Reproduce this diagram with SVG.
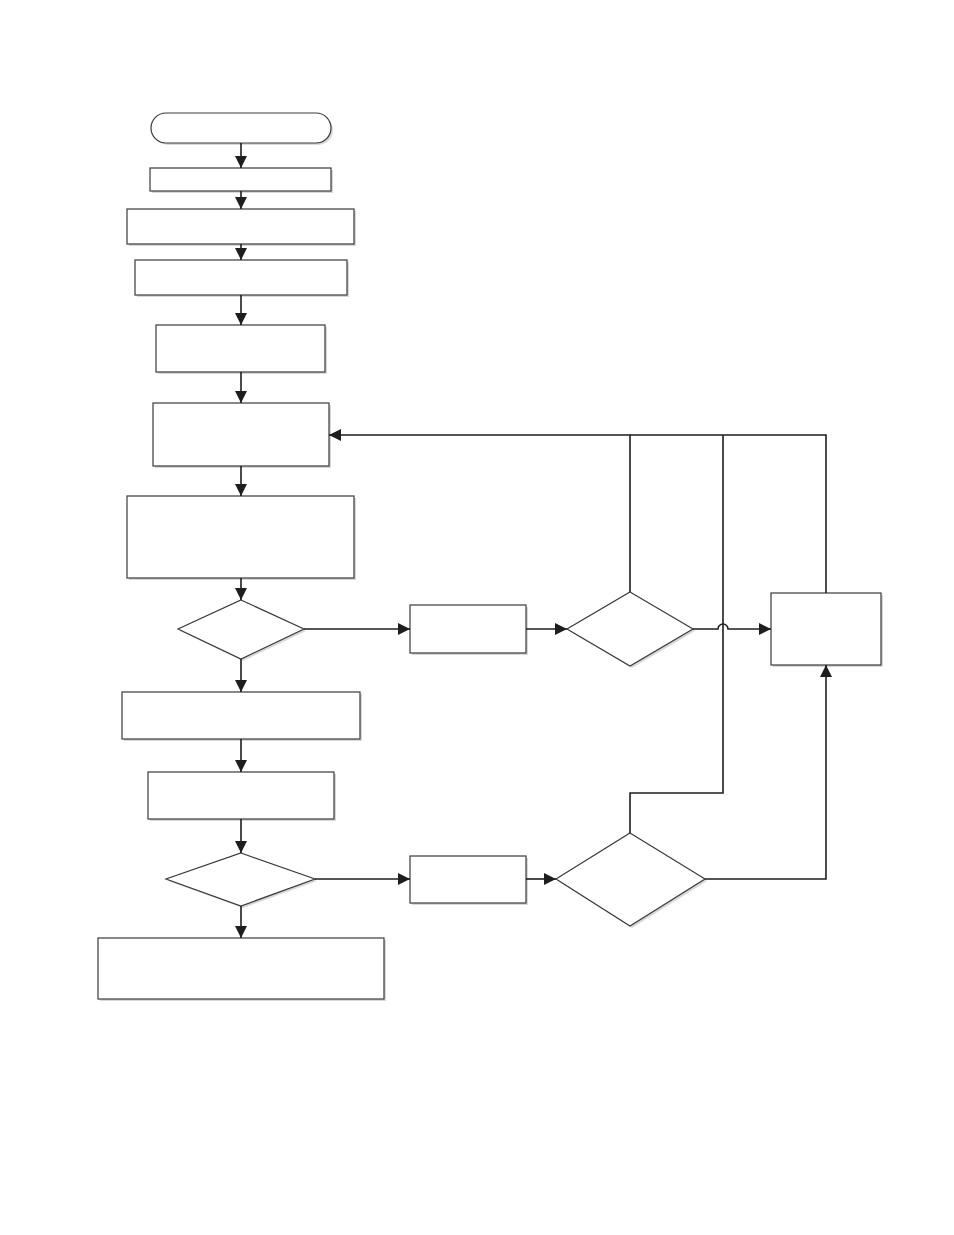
<svg xmlns="http://www.w3.org/2000/svg" width="954" height="1235" viewBox="0 0 954 1235">
<style>
.n{fill:#fff;stroke:#3a3a3a;stroke-width:1.2}
.s{fill:#d8d8d8;stroke:none}
.c{fill:none;stroke:#1e1e1e;stroke-width:1.6}
.a{marker-end:url(#ah)}
</style>
<defs>
<marker id="ah" markerUnits="userSpaceOnUse" markerWidth="12" markerHeight="12" viewBox="0 0 12 12" refX="12" refY="6" orient="auto">
<path d="M0,0 L12,6 L0,12 Z" fill="#1e1e1e"/>
</marker>
</defs>
<rect width="954" height="1235" fill="#fff"/>
<g id="n1"><rect class="s" x="153" y="115" width="180" height="30" rx="15"/><rect class="n" x="151" y="113" width="180" height="30" rx="15"/></g>
<g id="n2"><rect class="s" x="152" y="170" width="181" height="23"/><rect class="n" x="150" y="168" width="181" height="23"/></g>
<g id="n3"><rect class="s" x="129" y="211" width="227" height="35"/><rect class="n" x="127" y="209" width="227" height="35"/></g>
<g id="n4"><rect class="s" x="137" y="262" width="212" height="35"/><rect class="n" x="135" y="260" width="212" height="35"/></g>
<g id="n5"><rect class="s" x="158" y="327" width="169" height="47"/><rect class="n" x="156" y="325" width="169" height="47"/></g>
<g id="n6"><rect class="s" x="155" y="405" width="176" height="63"/><rect class="n" x="153" y="403" width="176" height="63"/></g>
<g id="n7"><rect class="s" x="129" y="498" width="227" height="82"/><rect class="n" x="127" y="496" width="227" height="82"/></g>
<g id="n8"><path class="s" d="M243,602 L306,631 L243,661 L180,631 Z"/><path class="n" d="M241,600 L304,629 L241,659 L178,629 Z"/></g>
<g id="n9"><rect class="s" x="412" y="607" width="116" height="48"/><rect class="n" x="410" y="605" width="116" height="48"/></g>
<g id="n10"><path class="s" d="M632,594 L695,631 L632,668 L569,631 Z"/><path class="n" d="M630,592 L693,629 L630,666 L567,629 Z"/></g>
<g id="n11"><rect class="s" x="773" y="595" width="110" height="72"/><rect class="n" x="771" y="593" width="110" height="72"/></g>
<g id="n12"><rect class="s" x="124" y="694" width="238" height="47"/><rect class="n" x="122" y="692" width="238" height="47"/></g>
<g id="n13"><rect class="s" x="150" y="774" width="186" height="47"/><rect class="n" x="148" y="772" width="186" height="47"/></g>
<g id="n14"><path class="s" d="M243,855 L317,881 L243,908 L168,881 Z"/><path class="n" d="M241,853 L315,879 L241,906 L166,879 Z"/></g>
<g id="n15"><rect class="s" x="412" y="858" width="116" height="47"/><rect class="n" x="410" y="856" width="116" height="47"/></g>
<g id="n16"><path class="s" d="M632,835 L707,881 L632,928 L558,881 Z"/><path class="n" d="M630,833 L705,879 L630,926 L556,879 Z"/></g>
<g id="n17"><rect class="s" x="100" y="940" width="286" height="61"/><rect class="n" x="98" y="938" width="286" height="61"/></g>
<g id="connectors">
<path class="c a" d="M241,143 V168"/>
<path class="c a" d="M241,191 V209"/>
<path class="c a" d="M241,244 V260"/>
<path class="c a" d="M241,295 V325"/>
<path class="c a" d="M241,372 V403"/>
<path class="c a" d="M241,466 V496"/>
<path class="c a" d="M241,578 V600"/>
<path class="c a" d="M241,659 V692"/>
<path class="c a" d="M241,739 V772"/>
<path class="c a" d="M241,819 V853"/>
<path class="c a" d="M241,906 V938"/>
<path class="c a" d="M304,629 H410"/>
<path class="c a" d="M526,629 H567"/>
<path class="c a" d="M315,879 H410"/>
<path class="c a" d="M526,879 H556"/>
<path class="c a" d="M630,592 V435 H329"/>
<path class="c" d="M826,593 V435 H630"/>
<path class="c" d="M630,833 V793 H723 V435"/>
<path class="c a" d="M693,629 H718 A5,5 0 0 1 728,629 H771"/>
<path class="c a" d="M705,879 H826 V665"/>
</g>
</svg>
